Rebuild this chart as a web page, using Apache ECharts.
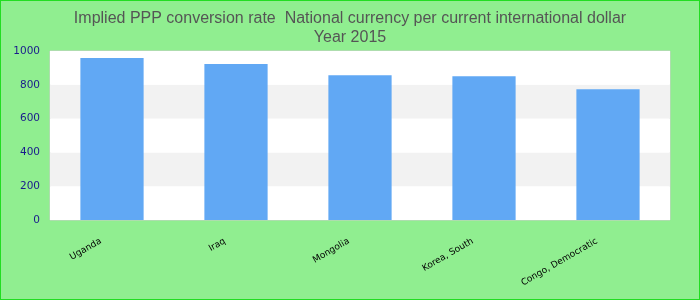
<!DOCTYPE html>
<html><head><meta charset="utf-8">
<script src="https://cdn.jsdelivr.net/npm/echarts@6/dist/echarts.min.js"></script>
<style>html,body{margin:0;padding:0;background:#90ee90}#c{width:700px;height:300px;box-sizing:border-box;border:1px solid #22dd22}</style>
</head><body><div id="c"></div>
<script>
const categories = ['Uganda', 'Iraq', 'Mongolia', 'Korea, South', 'Congo, Democratic'];
const values = [958, 923, 857, 851, 774];
const titleText = 'Implied PPP conversion rate  National currency per current international dollar\nYear 2015';

const chart = echarts.init(document.getElementById('c'), null, {renderer: 'canvas'});
chart.setOption({
  backgroundColor: '#90ee90',
  animation: false,
  title: {
    text: titleText, left: 'center', top: 3,
    textStyle: {fontFamily: 'Liberation Sans, Arial, sans-serif', fontSize: 16, fontWeight: 'normal', color: '#555', lineHeight: 19}
  },
  grid: {left: 49, right: 29, top: 50, bottom: 79, show: true, backgroundColor: '#fff', borderColor: '#ccc', borderWidth: 1},
  xAxis: {type: 'category', data: categories, axisLine: {show: false}, axisTick: {show: false},
    axisLabel: {rotate: 30, margin: 14, interval: 0, fontSize: 9, color: '#000', fontFamily: 'DejaVu Sans, sans-serif', padding: [0, 13, 0, 0]}},
  yAxis: {type: 'value', min: 0, max: 1000, interval: 200,
     axisLine: {show: false}, axisTick: {show: false},
     axisLabel: {color: '#1a1a8c', fontSize: 10.5, margin: 10, fontFamily: 'DejaVu Sans, sans-serif', formatter: v => String(v)},
     splitLine: {show: false},
     splitArea: {show: true, areaStyle: {color: ['#ffffff', '#f2f2f2']}}},
  series: [{
    type: 'bar', data: values, barWidth: '51%',
    itemStyle: {color: '#61a8f4'}
  }]
});
</script></body></html>
